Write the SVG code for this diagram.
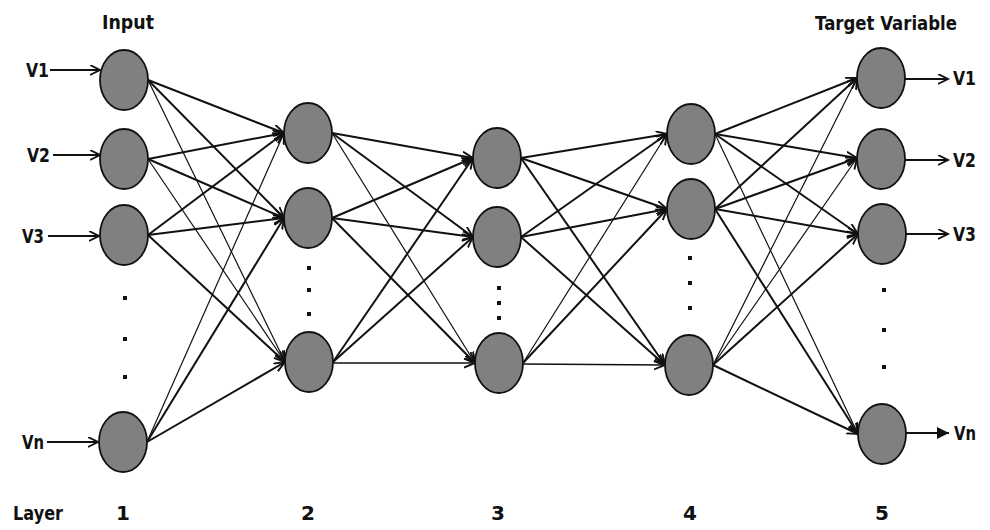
<svg xmlns="http://www.w3.org/2000/svg" width="990" height="530" viewBox="0 0 990 530">
<style>
.lbl{font-family:"DejaVu Sans","Liberation Sans",sans-serif;font-weight:bold;fill:#111;}
.hd{font-size:20px;}
.v{font-size:19px;}
.node{fill:#808080;stroke:#111;stroke-width:1.8;}
.c{stroke:#111;stroke-width:2;fill:none;marker-end:url(#ah);}
.t{stroke-width:1.2;}
.io{stroke:#111;stroke-width:1.9;fill:none;}
.dot{fill:#111;}
</style>
<defs>
<marker id="ah" markerUnits="userSpaceOnUse" markerWidth="14" markerHeight="12" refX="11" refY="5" orient="auto">
<path d="M0,0.5 L11,5 L0,9.5" fill="none" stroke="#111" stroke-width="1.9"/>
</marker>
<marker id="io" markerUnits="userSpaceOnUse" markerWidth="14" markerHeight="12" refX="10" refY="5" orient="auto">
<path d="M0,0 L10,5 L0,10" fill="none" stroke="#111" stroke-width="1.9"/>
</marker>
<marker id="fill" markerUnits="userSpaceOnUse" markerWidth="14" markerHeight="14" refX="12" refY="6" orient="auto">
<path d="M0,0 L12,6 L0,12 Z" fill="#111"/>
</marker>
</defs>
<rect width="990" height="530" fill="#fff"/>

<g id="connectors">
<!-- layer 1 to 2 -->
<line class="c" x1="148" y1="80" x2="284" y2="133"/>
<line class="c" x1="148" y1="80" x2="284" y2="218"/>
<line class="c t" x1="148" y1="80" x2="285" y2="362"/>
<line class="c" x1="148" y1="159" x2="284" y2="133"/>
<line class="c" x1="148" y1="159" x2="284" y2="218"/>
<line class="c t" x1="148" y1="159" x2="285" y2="362"/>
<line class="c" x1="148" y1="235" x2="284" y2="133"/>
<line class="c" x1="148" y1="235" x2="284" y2="218"/>
<line class="c" x1="148" y1="235" x2="285" y2="362"/>
<line class="c t" x1="147" y1="442" x2="284" y2="133"/>
<line class="c" x1="147" y1="442" x2="284" y2="218"/>
<line class="c" x1="147" y1="442" x2="285" y2="362"/>
<!-- layer 2 to 3 -->
<line class="c" x1="332" y1="133" x2="473" y2="158"/>
<line class="c" x1="332" y1="133" x2="473" y2="237"/>
<line class="c t" x1="332" y1="133" x2="475" y2="363"/>
<line class="c" x1="332" y1="218" x2="473" y2="158"/>
<line class="c" x1="332" y1="218" x2="473" y2="237"/>
<line class="c" x1="332" y1="218" x2="475" y2="363"/>
<line class="c" x1="333" y1="362" x2="473" y2="158"/>
<line class="c" x1="333" y1="362" x2="473" y2="237"/>
<line class="c" style="stroke-width:1.5" x1="333" y1="363" x2="475" y2="363"/>
<!-- layer 3 to 4 -->
<line class="c" x1="521" y1="158" x2="667" y2="134"/>
<line class="c" x1="521" y1="158" x2="667" y2="209"/>
<line class="c" x1="521" y1="158" x2="665" y2="365"/>
<line class="c" x1="521" y1="237" x2="667" y2="134"/>
<line class="c" x1="521" y1="237" x2="667" y2="209"/>
<line class="c" x1="521" y1="237" x2="665" y2="365"/>
<line class="c t" x1="523" y1="363" x2="667" y2="134"/>
<line class="c" x1="523" y1="363" x2="667" y2="209"/>
<line class="c" style="stroke-width:1.5" x1="523" y1="364" x2="665" y2="365"/>
<!-- layer 4 to 5 -->
<line class="c" x1="715" y1="134" x2="857" y2="78"/>
<line class="c" x1="715" y1="134" x2="857" y2="158"/>
<line class="c" x1="715" y1="134" x2="858" y2="234"/>
<line class="c t" x1="715" y1="134" x2="858" y2="434"/>
<line class="c" x1="715" y1="209" x2="857" y2="78"/>
<line class="c" x1="715" y1="209" x2="857" y2="158"/>
<line class="c" x1="715" y1="209" x2="858" y2="234"/>
<line class="c" x1="715" y1="209" x2="858" y2="434"/>
<line class="c t" x1="713" y1="365" x2="857" y2="78"/>
<line class="c t" x1="713" y1="365" x2="857" y2="158"/>
<line class="c" x1="713" y1="365" x2="858" y2="234"/>
<line class="c" x1="713" y1="365" x2="858" y2="434"/>
<!-- inputs -->
<line class="io" x1="50" y1="70" x2="100" y2="70" marker-end="url(#io)"/>
<line class="io" x1="53" y1="155" x2="100" y2="155" marker-end="url(#io)"/>
<line class="io" x1="48" y1="236" x2="99" y2="236" marker-end="url(#io)"/>
<line class="io" x1="47" y1="442" x2="98" y2="442" marker-end="url(#io)"/>
<!-- outputs -->
<line class="io" x1="905" y1="79" x2="948" y2="79" marker-end="url(#io)"/>
<line class="io" x1="905" y1="160" x2="948" y2="160" marker-end="url(#io)"/>
<line class="io" x1="906" y1="234" x2="948" y2="234" marker-end="url(#io)"/>
<line class="io" x1="906" y1="433" x2="949" y2="433" marker-end="url(#fill)"/>
</g>

<g id="layer1">
<ellipse id="n1_1" class="node" cx="124" cy="80" rx="24" ry="30"/>
<ellipse id="n1_2" class="node" cx="124" cy="159" rx="24" ry="30"/>
<ellipse id="n1_3" class="node" cx="124" cy="235" rx="24" ry="30"/>
<ellipse id="n1_n" class="node" cx="123" cy="442" rx="24" ry="30"/>
<rect class="dot" x="123" y="296" width="4" height="4"/>
<rect class="dot" x="123" y="337" width="4" height="4"/>
<rect class="dot" x="123" y="375" width="4" height="4"/>
</g>
<g id="layer2">
<ellipse id="n2_1" class="node" cx="308" cy="133" rx="24" ry="30"/>
<ellipse id="n2_2" class="node" cx="308" cy="218" rx="24" ry="30"/>
<ellipse id="n2_n" class="node" cx="309" cy="362" rx="24" ry="30"/>
<rect class="dot" x="307" y="266" width="4" height="4"/>
<rect class="dot" x="307" y="288" width="4" height="4"/>
<rect class="dot" x="307" y="312" width="4" height="4"/>
</g>
<g id="layer3">
<ellipse id="n3_1" class="node" cx="497" cy="158" rx="24" ry="30"/>
<ellipse id="n3_2" class="node" cx="497" cy="237" rx="24" ry="30"/>
<ellipse id="n3_n" class="node" cx="499" cy="363" rx="24" ry="30"/>
<rect class="dot" x="497" y="286" width="4" height="4"/>
<rect class="dot" x="497" y="301" width="4" height="4"/>
<rect class="dot" x="497" y="316" width="4" height="4"/>
</g>
<g id="layer4">
<ellipse id="n4_1" class="node" cx="691" cy="134" rx="24" ry="30"/>
<ellipse id="n4_2" class="node" cx="691" cy="209" rx="24" ry="30"/>
<ellipse id="n4_n" class="node" cx="689" cy="365" rx="24" ry="30"/>
<rect class="dot" x="688" y="256" width="4" height="4"/>
<rect class="dot" x="688" y="281" width="4" height="4"/>
<rect class="dot" x="688" y="306" width="4" height="4"/>
</g>
<g id="layer5">
<ellipse id="n5_1" class="node" cx="881" cy="78" rx="24" ry="30"/>
<ellipse id="n5_2" class="node" cx="881" cy="159" rx="24" ry="30"/>
<ellipse id="n5_3" class="node" cx="882" cy="234" rx="24" ry="30"/>
<ellipse id="n5_n" class="node" cx="882" cy="434" rx="24" ry="30"/>
<rect class="dot" x="882" y="288" width="4" height="4"/>
<rect class="dot" x="882" y="328" width="4" height="4"/>
<rect class="dot" x="882" y="365" width="4" height="4"/>
</g>

<g id="labels">
<text class="lbl hd" x="102" y="29" textLength="52" lengthAdjust="spacingAndGlyphs">Input</text>
<text class="lbl hd" x="815" y="30" textLength="142" lengthAdjust="spacingAndGlyphs">Target Variable</text>
<text class="lbl v" x="26" y="77" textLength="23" lengthAdjust="spacingAndGlyphs">V1</text>
<text class="lbl v" x="27" y="162" textLength="23" lengthAdjust="spacingAndGlyphs">V2</text>
<text class="lbl v" x="22" y="243" textLength="22" lengthAdjust="spacingAndGlyphs">V3</text>
<text class="lbl v" x="22" y="449" textLength="22" lengthAdjust="spacingAndGlyphs">Vn</text>
<text class="lbl v" x="953" y="85" textLength="23" lengthAdjust="spacingAndGlyphs">V1</text>
<text class="lbl v" x="953" y="167" textLength="23" lengthAdjust="spacingAndGlyphs">V2</text>
<text class="lbl v" x="953" y="241" textLength="23" lengthAdjust="spacingAndGlyphs">V3</text>
<text class="lbl v" x="954" y="440" textLength="22" lengthAdjust="spacingAndGlyphs">Vn</text>
<text class="lbl hd" x="13" y="520" textLength="50" lengthAdjust="spacingAndGlyphs">Layer</text>
<text class="lbl hd" x="123" y="520" text-anchor="middle">1</text>
<text class="lbl hd" x="308" y="520" text-anchor="middle">2</text>
<text class="lbl hd" x="498" y="520" text-anchor="middle">3</text>
<text class="lbl hd" x="690" y="520" text-anchor="middle">4</text>
<text class="lbl hd" x="882" y="520" text-anchor="middle">5</text>
</g>
</svg>
